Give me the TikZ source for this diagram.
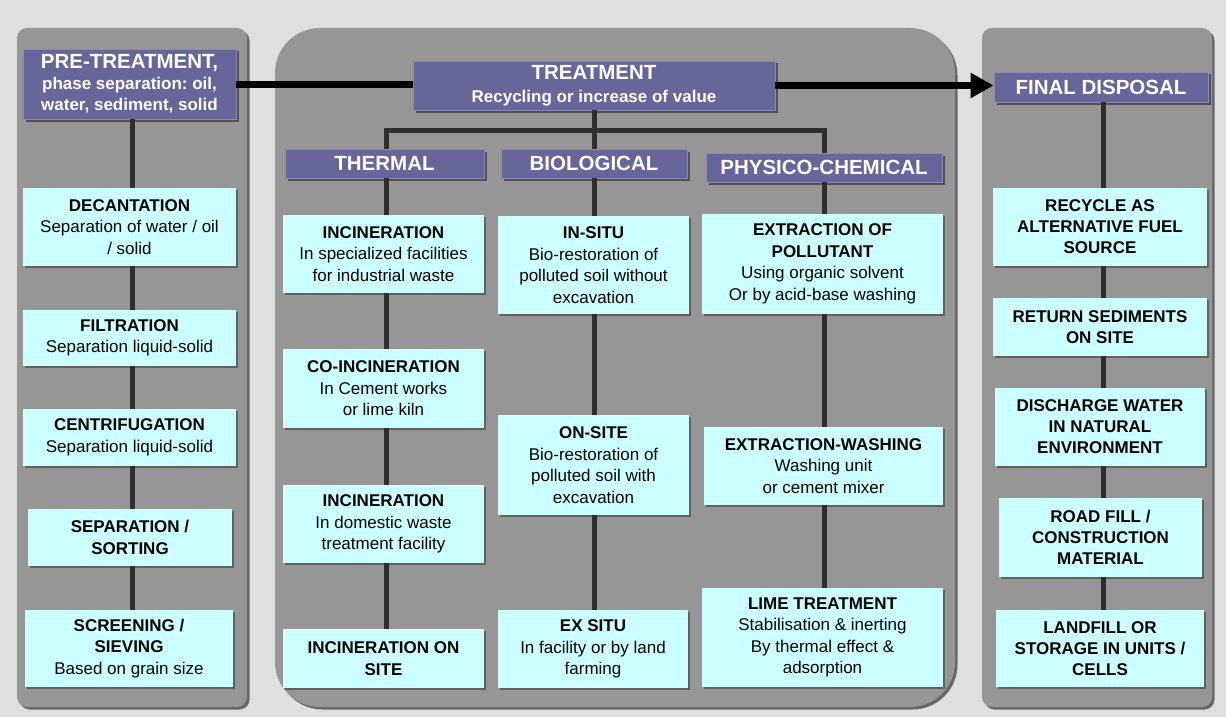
\documentclass[tikz,border=0pt]{standalone}
\usepackage{fontspec}
\setmainfont{Liberation Sans}
\usetikzlibrary{arrows.meta,shadows}
\definecolor{bg}{HTML}{DFDFDF}
\definecolor{panel}{HTML}{969696}
\definecolor{panelsh}{HTML}{686868}
\definecolor{hdr}{HTML}{66669A}
\definecolor{hdredge}{HTML}{8A8AB8}
\definecolor{lb}{HTML}{CCFFFF}
\definecolor{conncol}{HTML}{2E2E2E}
\tikzset{
  hdrbox/.style={fill=hdr, draw=hdredge, line width=0.8pt, text=white, inner sep=0pt,
    align=center, font=\bfseries\fontsize{20.5}{22}\selectfont,
    drop shadow={shadow xshift=2.5pt, shadow yshift=-2.5pt, fill=black, opacity=0.45}},
  lbox/.style={fill=lb, inner sep=0pt, align=center, text=black,
    font=\fontsize{17}{21.5}\selectfont,
    drop shadow={shadow xshift=2pt, shadow yshift=-2pt, fill=black, opacity=0.35}},
  conn/.style={draw=conncol, line width=5pt},
  bigarrow/.style={draw=black, line width=7pt},
  panelfill/.style={fill=panel},
  panelshadow/.style={fill=panelsh}
}
\begin{document}
\begin{tikzpicture}[x=1pt,y=-1pt]
\useasboundingbox (0,0) rectangle (1226,717);
\fill[bg] (0,0) rectangle (1226,717);
% panels
\fill[panelshadow, rounded corners=10pt] (19.5,30.5) rectangle (249.5,709.5);
\fill[panelfill, rounded corners=10pt] (17,28) rectangle (247,707);
\fill[panelshadow, rounded corners=45pt] (277.5,30.5) rectangle (957.5,709.5);
\fill[panelfill, rounded corners=45pt] (275,28) rectangle (955,707);
\fill[panelshadow, rounded corners=10pt] (984.5,30.5) rectangle (1214.5,709.5);
\fill[panelfill, rounded corners=10pt] (982,28) rectangle (1212,707);

% column coordinates
\coordinate (cL) at (132,0);
\coordinate (cT) at (386,0);
\coordinate (cB) at (594,0);
\coordinate (cP) at (824,0);
\coordinate (cR) at (1103,0);

% headers
\node[hdrbox, minimum width=213pt, minimum height=70pt, font=\bfseries\fontsize{17}{21}\selectfont] (pre) at (129.5,84)
  {{\fontsize{20.5}{22}\selectfont PRE-TREATMENT,}\\phase separation:\ oil,\\water, sediment, solid};
\node[hdrbox, minimum width=362pt, minimum height=49pt, font=\bfseries\fontsize{17}{23}\selectfont] (treat) at (594,85.5)
  {{\fontsize{20.5}{22}\selectfont TREATMENT}\\Recycling or increase of value};
\node[hdrbox, minimum width=214pt, minimum height=30pt] (final) at (1101,87) {FINAL DISPOSAL};
\node[hdrbox, minimum width=199pt, minimum height=29pt] (therm) at (384.5,163.5) {THERMAL};
\node[hdrbox, minimum width=186pt, minimum height=29pt] (bio) at (594,163.5) {BIOLOGICAL};
\node[hdrbox, minimum width=236pt, minimum height=29pt] (phys) at (824,167.5) {PHYSICO-CHEMICAL};

% left column
\node[lbox, minimum width=213pt, minimum height=78pt] (dec) at (129.5,227)
  {\textbf{DECANTATION}\\Separation of water / oil\\/ solid};
\node[lbox, minimum width=213pt, minimum height=56pt] (fil) at (129.5,338)
  {\textbf{FILTRATION}\\Separation liquid-solid};
\node[lbox, minimum width=213pt, minimum height=57pt] (cen) at (129.5,437.5)
  {\textbf{CENTRIFUGATION}\\Separation liquid-solid};
\node[lbox, minimum width=204pt, minimum height=57pt] (sep) at (130,537.5)
  {\textbf{SEPARATION /}\\\textbf{SORTING}};
\node[lbox, minimum width=208pt, minimum height=77pt] (scr) at (129,648.5)
  {\textbf{SCREENING /}\\\textbf{SIEVING}\\Based on grain size};

% thermal column
\node[lbox, minimum width=201pt, minimum height=78pt] (inc1) at (383.5,254)
  {\textbf{INCINERATION}\\In specialized facilities\\for industrial waste};
\node[lbox, minimum width=201pt, minimum height=79pt] (coinc) at (383.5,388.5)
  {\textbf{CO-INCINERATION}\\In Cement works\\or lime kiln};
\node[lbox, minimum width=201pt, minimum height=78pt] (inc2) at (383.5,524)
  {\textbf{INCINERATION}\\In domestic waste\\treatment facility};
\node[lbox, minimum width=201pt, minimum height=59pt] (inc3) at (383.5,658.5)
  {\textbf{INCINERATION ON}\\\textbf{SITE}};

% biological column
\node[lbox, minimum width=191pt, minimum height=98pt] (insitu) at (593.5,265)
  {\textbf{IN-SITU}\\Bio-restoration of\\polluted soil without\\excavation};
\node[lbox, minimum width=191pt, minimum height=100pt] (onsite) at (593.5,465)
  {\textbf{ON-SITE}\\Bio-restoration of\\polluted soil with\\excavation};
\node[lbox, minimum width=190pt, minimum height=78pt] (exsitu) at (593,649)
  {\textbf{EX SITU}\\In facility or by land\\farming};

% physico-chemical column
\node[lbox, minimum width=241pt, minimum height=100pt] (extr) at (822.5,264)
  {\textbf{EXTRACTION OF}\\\textbf{POLLUTANT}\\Using organic solvent\\Or by acid-base washing};
\node[lbox, minimum width=239pt, minimum height=78pt] (wash) at (823.5,466)
  {\textbf{EXTRACTION-WASHING}\\Washing unit\\or cement mixer};
\node[lbox, minimum width=241pt, minimum height=99pt] (lime) at (822.5,637.5)
  {\textbf{LIME TREATMENT}\\Stabilisation \& inerting\\By thermal effect \&\\adsorption};

% right column
\node[lbox, minimum width=214pt, minimum height=78pt, font=\bfseries\fontsize{17}{21}\selectfont] (rec) at (1100,227)
  {RECYCLE AS\\ALTERNATIVE FUEL\\SOURCE};
\node[lbox, minimum width=214pt, minimum height=58pt, font=\bfseries\fontsize{17}{21}\selectfont] (ret) at (1100,327)
  {RETURN SEDIMENTS\\ON SITE};
\node[lbox, minimum width=210pt, minimum height=78pt, font=\bfseries\fontsize{17}{21}\selectfont] (dis) at (1100,427)
  {DISCHARGE WATER\\IN NATURAL\\ENVIRONMENT};
\node[lbox, minimum width=203pt, minimum height=79pt, font=\bfseries\fontsize{17}{21}\selectfont] (road) at (1100.5,537.5)
  {ROAD FILL /\\CONSTRUCTION\\MATERIAL};
\node[lbox, minimum width=208pt, minimum height=77pt, font=\bfseries\fontsize{17}{21}\selectfont] (land) at (1100,648.5)
  {LANDFILL OR\\STORAGE IN UNITS /\\CELLS};

% connectors
\draw[conn] (pre.south -| cL) -- (dec.north -| cL);
\draw[conn] (dec.south -| cL) -- (fil.north -| cL);
\draw[conn] (fil.south -| cL) -- (cen.north -| cL);
\draw[conn] (cen.south -| cL) -- (sep.north -| cL);
\draw[conn] (sep.south -| cL) -- (scr.north -| cL);

\draw[conn] (treat.south -| cB) -- (bio.north -| cB);
\draw[conn] (therm.north -| cT) -- ++(0,-18) -| (phys.north -| cP);

\draw[conn] (therm.south -| cT) -- (inc1.north -| cT);
\draw[conn] (inc1.south -| cT) -- (coinc.north -| cT);
\draw[conn] (coinc.south -| cT) -- (inc2.north -| cT);
\draw[conn] (inc2.south -| cT) -- (inc3.north -| cT);

\draw[conn] (bio.south -| cB) -- (insitu.north -| cB);
\draw[conn] (insitu.south -| cB) -- (onsite.north -| cB);
\draw[conn] (onsite.south -| cB) -- (exsitu.north -| cB);

\draw[conn] (phys.south -| cP) -- (extr.north -| cP);
\draw[conn] (extr.south -| cP) -- (wash.north -| cP);
\draw[conn] (wash.south -| cP) -- (lime.north -| cP);

\draw[conn] (final.south -| cR) -- (rec.north -| cR);
\draw[conn] (rec.south -| cR) -- (ret.north -| cR);
\draw[conn] (ret.south -| cR) -- (dis.north -| cR);
\draw[conn] (dis.south -| cR) -- (road.north -| cR);
\draw[conn] (road.south -| cR) -- (land.north -| cR);

% main flow arrows
\draw[bigarrow] (pre.east) -- (pre.east -| treat.west);
\draw[bigarrow, -{Triangle[length=23pt,width=24pt]}] (treat.east) -- (treat.east -| final.west);
\end{tikzpicture}
\end{document}
